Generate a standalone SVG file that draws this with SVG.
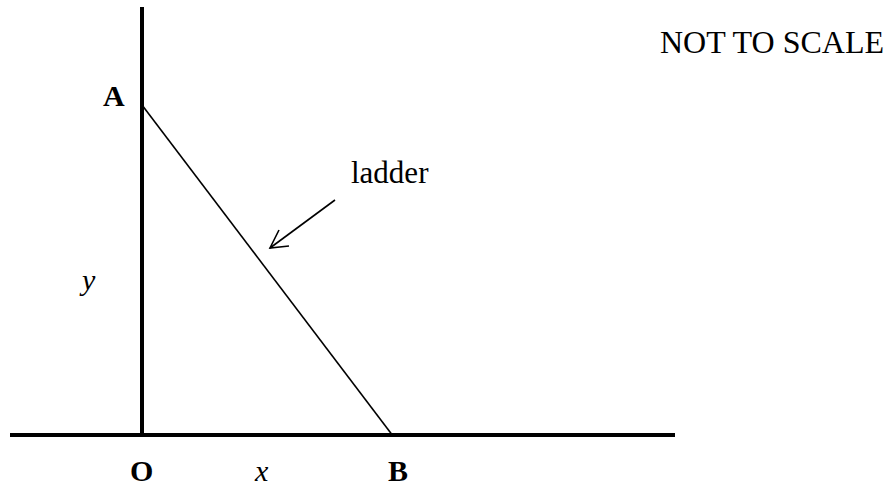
<svg xmlns="http://www.w3.org/2000/svg" width="890" height="488" viewBox="0 0 890 488">
  <style>
    .axis { stroke: #000; stroke-width: 4; fill: none; }
    .thin { stroke: #000; stroke-width: 1.6; fill: none; }
    .lbl { font-family: "Liberation Serif", "Times New Roman", serif; fill: #000; }
    .bold { font-weight: bold; font-size: 30px; }
    .ital { font-style: italic; font-size: 30px; }
  </style>
  <rect width="890" height="488" fill="#fff"/>
  <g id="wall">
    <line class="axis" x1="142" y1="7" x2="142" y2="435"/>
  </g>
  <g id="ground">
    <line class="axis" x1="10" y1="435" x2="675" y2="435"/>
  </g>
  <g id="ladder">
    <line class="thin" x1="142" y1="105" x2="391.5" y2="434"/>
  </g>
  <g id="label-A"><text class="lbl bold" x="103" y="106">A</text></g>
  <g id="label-O"><text class="lbl bold" x="130" y="481">O</text></g>
  <g id="label-B"><text class="lbl bold" x="388" y="481">B</text></g>
  <g id="label-x"><text class="lbl ital" x="255" y="481">x</text></g>
  <g id="label-y"><text class="lbl ital" x="82" y="290">y</text></g>
  <g id="label-ladder"><text class="lbl" x="351" y="183" font-size="31">ladder</text></g>
  <g id="note"><text class="lbl" x="660" y="53" font-size="32">NOT TO SCALE</text></g>
  <g id="connectors">
    <line class="thin" x1="335" y1="200" x2="270" y2="248"/>
    <polyline class="thin" points="279,230 270,248 289,246"/>
  </g>
</svg>
